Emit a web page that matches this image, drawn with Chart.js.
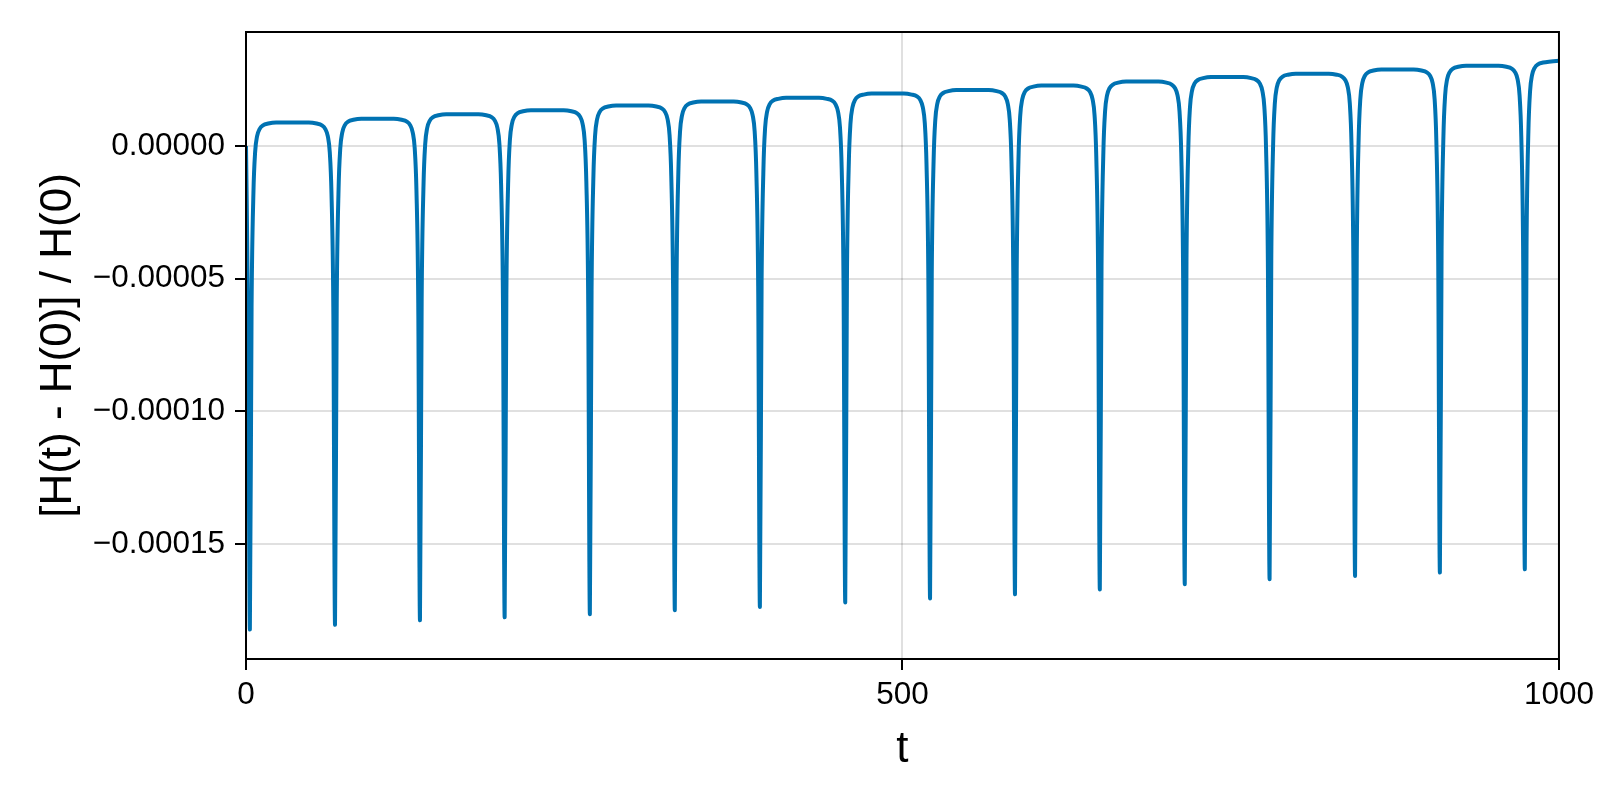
<!DOCTYPE html>
<html>
<head>
<meta charset="utf-8">
<script src="https://cdn.jsdelivr.net/npm/chart.js@4"></script>
<style>
  html, body { margin: 0; padding: 0; background: #ffffff; }
  #wrap { width: 1600px; height: 800px; }
</style>
</head>
<body>
<div id="wrap"><canvas id="c" width="1600" height="800"></canvas></div>
<script>
// time samples (t)
const tValues = [
  0, 1.65,
  2.95, 4.25, 5.65, 6.95, 8.45, 10.45, 12.95, 16.95, 22.95,
  47.8, 53.8, 57.8, 60.3, 62.3, 63.8, 65.1, 66.5, 67.8, 69.1, 70.5, 71.8, 73.3, 75.3, 77.8, 81.8, 87.8,
  112.5, 118.5, 122.5, 125, 127, 128.5, 129.8, 131.2, 132.5, 133.8, 135.2, 136.5, 138, 140, 142.5, 146.5, 152.5,
  177, 183, 187, 189.5, 191.5, 193, 194.3, 195.7, 197, 198.3, 199.7, 201, 202.5, 204.5, 207, 211, 217,
  241.9, 247.9, 251.9, 254.4, 256.4, 257.9, 259.2, 260.6, 261.9, 263.2, 264.6, 265.9, 267.4, 269.4, 271.9, 275.9, 281.9,
  306.6, 312.6, 316.6, 319.1, 321.1, 322.6, 323.9, 325.3, 326.6, 327.9, 329.3, 330.6, 332.1, 334.1, 336.6, 340.6, 346.6,
  371.4, 377.4, 381.4, 383.9, 385.9, 387.4, 388.7, 390.1, 391.4, 392.7, 394.1, 395.4, 396.9, 398.9, 401.4, 405.4, 411.4,
  436.4, 442.4, 446.4, 448.9, 450.9, 452.4, 453.7, 455.1, 456.4, 457.7, 459.1, 460.4, 461.9, 463.9, 466.4, 470.4, 476.4,
  501, 507, 511, 513.5, 515.5, 517, 518.3, 519.7, 521, 522.3, 523.7, 525, 526.5, 528.5, 531, 535, 541,
  565.7, 571.7, 575.7, 578.2, 580.2, 581.7, 583, 584.4, 585.7, 587, 588.4, 589.7, 591.2, 593.2, 595.7, 599.7, 605.7,
  630.3, 636.3, 640.3, 642.8, 644.8, 646.3, 647.6, 649, 650.3, 651.6, 653, 654.3, 655.8, 657.8, 660.3, 664.3, 670.3,
  695, 701, 705, 707.5, 709.5, 711, 712.3, 713.7, 715, 716.3, 717.7, 719, 720.5, 722.5, 725, 729, 735,
  759.6, 765.6, 769.6, 772.1, 774.1, 775.6, 776.9, 778.3, 779.6, 780.9, 782.3, 783.6, 785.1, 787.1, 789.6, 793.6, 799.6,
  824.7, 830.7, 834.7, 837.2, 839.2, 840.7, 842, 843.4, 844.7, 846, 847.4, 848.7, 850.2, 852.2, 854.7, 858.7, 864.7,
  889.3, 895.3, 899.3, 901.8, 903.8, 905.3, 906.6, 908, 909.3, 910.6, 912, 913.3, 914.8, 916.8, 919.3, 923.3, 929.3,
  954, 960, 964, 966.5, 968.5, 970, 971.3, 972.7, 974, 975.3, 976.7, 978, 979.5, 981.5, 984, 988, 994,
  1000
];

// relative energy error [H(t) - H(0)] / H(0), in units of 1e-5
const relErrorE5 = [
  0, -7.0,
  -18.23, -6.08, -1.78, -0.23, 0.37, 0.65, 0.78, 0.85, 0.89,
  0.89, 0.85, 0.78, 0.65, 0.37, -0.23, -1.78, -6.08, -18.05, -5.94, -1.64, -0.09, 0.51, 0.79, 0.92, 0.99, 1.03,
  1.03, 0.99, 0.92, 0.79, 0.51, -0.09, -1.64, -5.94, -17.88, -5.77, -1.47, 0.08, 0.68, 0.96, 1.09, 1.16, 1.20,
  1.20, 1.16, 1.09, 0.96, 0.68, 0.08, -1.47, -5.77, -17.77, -5.62, -1.32, 0.23, 0.83, 1.11, 1.24, 1.31, 1.35,
  1.35, 1.31, 1.24, 1.11, 0.83, 0.23, -1.32, -5.62, -17.65, -5.44, -1.14, 0.41, 1.01, 1.29, 1.42, 1.49, 1.53,
  1.53, 1.49, 1.42, 1.29, 1.01, 0.41, -1.14, -5.44, -17.50, -5.29, -0.99, 0.56, 1.16, 1.44, 1.57, 1.64, 1.68,
  1.68, 1.64, 1.57, 1.44, 1.16, 0.56, -0.99, -5.29, -17.38, -5.15, -0.85, 0.70, 1.30, 1.58, 1.71, 1.78, 1.82,
  1.82, 1.78, 1.71, 1.58, 1.30, 0.70, -0.85, -5.15, -17.21, -4.99, -0.69, 0.86, 1.46, 1.74, 1.87, 1.94, 1.98,
  1.98, 1.94, 1.87, 1.74, 1.46, 0.86, -0.69, -4.99, -17.06, -4.86, -0.56, 0.99, 1.59, 1.87, 2.00, 2.07, 2.11,
  2.11, 2.07, 2.00, 1.87, 1.59, 0.99, -0.56, -4.86, -16.90, -4.69, -0.39, 1.16, 1.76, 2.04, 2.17, 2.24, 2.28,
  2.28, 2.24, 2.17, 2.04, 1.76, 1.16, -0.39, -4.69, -16.72, -4.54, -0.24, 1.31, 1.91, 2.19, 2.32, 2.39, 2.43,
  2.43, 2.39, 2.32, 2.19, 1.91, 1.31, -0.24, -4.54, -16.52, -4.37, -0.07, 1.48, 2.08, 2.36, 2.49, 2.56, 2.60,
  2.60, 2.56, 2.49, 2.36, 2.08, 1.48, -0.07, -4.37, -16.33, -4.24, 0.06, 1.61, 2.21, 2.49, 2.62, 2.69, 2.73,
  2.73, 2.69, 2.62, 2.49, 2.21, 1.61, 0.06, -4.24, -16.21, -4.08, 0.22, 1.77, 2.37, 2.65, 2.78, 2.85, 2.89,
  2.89, 2.85, 2.78, 2.65, 2.37, 1.77, 0.22, -4.08, -16.08, -3.94, 0.36, 1.91, 2.51, 2.79, 2.92, 2.99, 3.03,
  3.03, 2.99, 2.92, 2.79, 2.51, 1.91, 0.36, -3.94, -15.96, -3.78, 0.52, 2.07, 2.67, 2.95, 3.08, 3.15, 3.19,
  3.22
];
const valueUnit = 1e-5;

const xTickValues = [0, 500, 1000];
const yTickValues = [-0.00015, -0.00010, -0.00005, 0];
const xRange = [0, 1000];
const yRange = [-1.934e-4, 4.30e-5];
const xLabel = 't';
const yLabel = '[H(t) - H(0)] / H(0)';

const points = tValues.map((t, i) => ({ x: t, y: relErrorE5[i] * valueUnit }));

const FONT = "'Liberation Sans', Arial, Helvetica, sans-serif";

const frame = {
  id: 'frame',
  afterDatasetsDraw(chart) {
    const { ctx, chartArea: a } = chart;
    ctx.save();
    ctx.strokeStyle = '#000';
    ctx.lineWidth = 2;
    ctx.strokeRect(a.left, a.top, a.right - a.left, a.bottom - a.top);
    ctx.restore();
  }
};

new Chart(document.getElementById('c'), {
  type: 'scatter',
  data: {
    datasets: [{
      data: points,
      showLine: true,
      borderColor: '#0072B2',
      backgroundColor: '#0072B2',
      borderWidth: 4,
      pointRadius: 0,
      pointHoverRadius: 0,
      cubicInterpolationMode: 'monotone',
      borderJoinStyle: 'round',
      fill: false
    }]
  },
  options: {
    responsive: false,
    devicePixelRatio: 1,
    animation: false,
    events: [],
    layout: { padding: { left: 0, top: 32, right: 33, bottom: 0 } },
    plugins: { legend: { display: false }, tooltip: { enabled: false } },
    scales: {
      x: {
        type: 'linear',
        min: xRange[0],
        max: xRange[1],
        afterFit(s) { s.height = 141; },
        afterBuildTicks(s) { s.ticks = xTickValues.map(v => ({ value: v })); },
        border: { display: false },
        grid: { color: 'rgba(0,0,0,0.12)', lineWidth: 2, tickColor: '#000', tickWidth: 2, tickLength: 11 },
        ticks: {
          color: '#000',
          font: { family: FONT, size: 31.5 },
          padding: 6,
          maxRotation: 0,
          callback: v => String(v)
        },
        title: {
          display: true,
          text: xLabel,
          color: '#000',
          font: { family: FONT, size: 44 },
          padding: { top: 0, bottom: 24 }
        }
      },
      y: {
        type: 'linear',
        min: yRange[0],
        max: yRange[1],
        afterFit(s) { s.width = 246; },
        afterBuildTicks(s) { s.ticks = yTickValues.map(v => ({ value: v })); },
        border: { display: false },
        grid: { color: 'rgba(0,0,0,0.12)', lineWidth: 2, tickColor: '#000', tickWidth: 2, tickLength: 11 },
        ticks: {
          color: '#000',
          font: { family: FONT, size: 31.5 },
          padding: 10,
          callback: v => v.toFixed(5).replace('-', '\u2212')
        },
        title: {
          display: true,
          text: yLabel,
          color: '#000',
          font: { family: FONT, size: 44 },
          padding: { top: 32, bottom: 0 }
        }
      }
    }
  },
  plugins: [frame]
});
</script>
</body>
</html>
